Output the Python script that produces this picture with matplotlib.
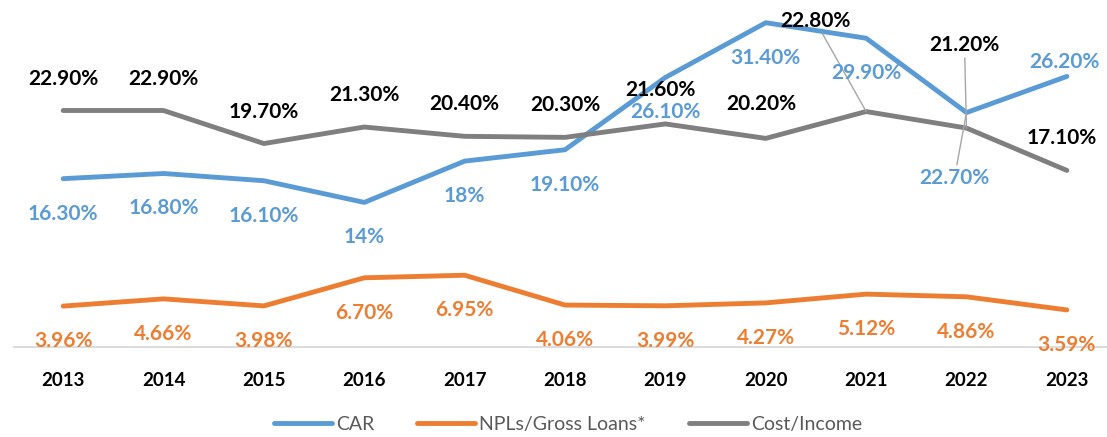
import numpy as np
import matplotlib.pyplot as plt

years = ['2013', '2014', '2015', '2016', '2017', '2018', '2019', '2020', '2021', '2022', '2023']
car = [16.3, 16.8, 16.1, 14.0, 18.0, 19.1, 26.1, 31.4, 29.9, 22.7, 26.2]
npl = [3.96, 4.66, 3.98, 6.70, 6.95, 4.06, 3.99, 4.27, 5.12, 4.86, 3.59]
cost_income = [22.9, 22.9, 19.7, 21.3, 20.4, 20.3, 21.6, 20.2, 22.8, 21.2, 17.1]

car_text = ['16.30%', '16.80%', '16.10%', '14%', '18%', '19.10%', '26.10%',
            '31.40%', '29.90%', '22.70%', '26.20%']
npl_text = ['3.96%', '4.66%', '3.98%', '6.70%', '6.95%', '4.06%', '3.99%',
            '4.27%', '5.12%', '4.86%', '3.59%']
cost_text = ['22.90%', '22.90%', '19.70%', '21.30%', '20.40%', '20.30%', '21.60%',
             '20.20%', '22.80%', '21.20%', '17.10%']

c_car = '#5B9BD5'
c_npl = '#ED7D31'
c_cost = '#7F7F7F'

plt.rcParams['font.family'] = ['Lato', 'DejaVu Sans']

fig = plt.figure(figsize=(11.07, 4.37), dpi=100)
ax = fig.add_axes([14 / 1107, 90 / 437, 1093 / 1107, 347 / 437])

x = np.arange(len(years))
ax.plot(x, car, color=c_car, lw=3.5, label='CAR', solid_capstyle='round')
ax.plot(x, npl, color=c_npl, lw=3.5, label='NPLs/Gross Loans*', solid_capstyle='round')
ax.plot(x, cost_income, color=c_cost, lw=3.5, label='Cost/Income', solid_capstyle='round')

ax.set_xlim(-0.49, 10.4)
ax.set_ylim(0, 33.6)

# label offsets in pixels (dx, dy); anything not listed uses the series default
car_off = {9: (-12, -65), 10: (-2, 14)}
cost_off = {6: (-5, 34), 7: (-4, 34), 8: (-51, 91), 9: (-2, 83), 10: (-5, 32)}
leader = dict(arrowstyle='-', color='#A6A6A6', lw=1, shrinkA=0, shrinkB=0)
lbl = dict(ha='center', va='center', fontsize=15, fontweight='bold',
           textcoords='offset pixels')

for i in range(len(years)):
    dx, dy = cost_off.get(i, (0, 32))
    ap = leader if i in (8, 9) else None
    ax.annotate(cost_text[i], (x[i], cost_income[i]), xytext=(dx, dy),
                color='black', arrowprops=ap, **lbl)

    dx, dy = car_off.get(i, (0, -35))
    ap = leader if i == 9 else None
    ax.annotate(car_text[i], (x[i], car[i]), xytext=(dx, dy),
                color=c_car, arrowprops=ap, **lbl)

    ax.annotate(npl_text[i], (x[i], npl[i]), xytext=(0, -35),
                color=c_npl, **lbl)

ax.set_xticks(x)
ax.set_xticklabels(years, fontsize=13.5, fontweight='bold')
ax.set_yticks([])
ax.tick_params(axis='x', length=0, pad=18)
for s in ['top', 'right', 'left']:
    ax.spines[s].set_visible(False)
ax.spines['bottom'].set_color('#D9D9D9')
ax.spines['bottom'].set_linewidth(1.3)

leg = fig.legend(loc='center', bbox_to_anchor=(0.513, 0.028), ncol=3, frameon=False,
                 fontsize=14, handlelength=3, handletextpad=0.2, columnspacing=2.2)
for t in leg.get_texts():
    t.set_color('#595959')

fig.savefig('out.png', dpi=100)
